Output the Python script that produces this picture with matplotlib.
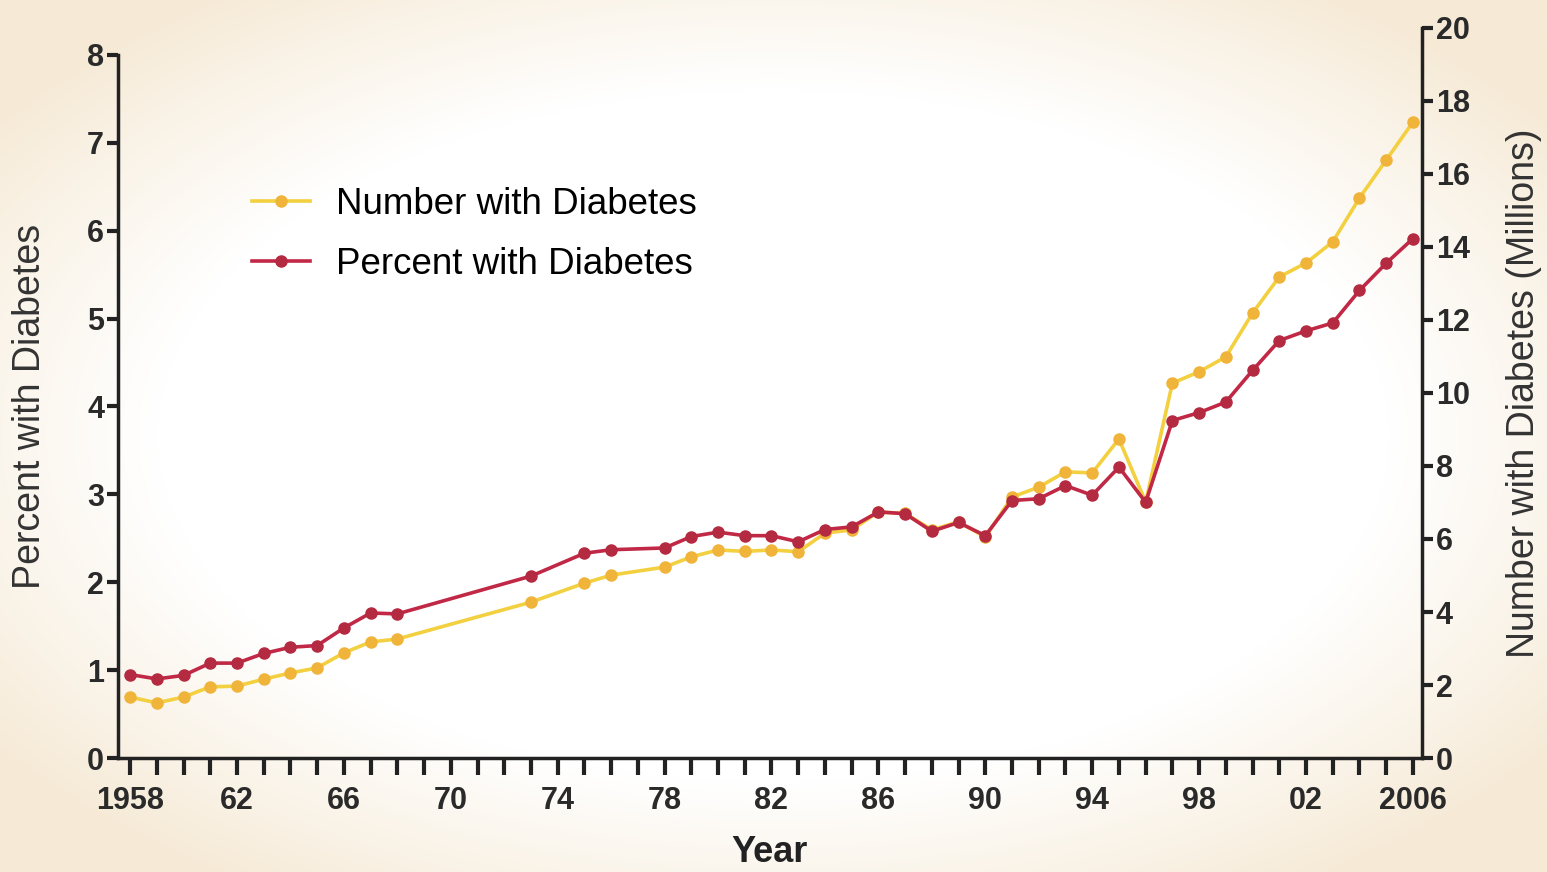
import matplotlib.pyplot as plt
import numpy as np

plt.rcParams['font.family'] = ['Liberation Sans', 'DejaVu Sans']

# Data
years = [1958, 1959, 1960, 1961, 1962, 1963, 1964, 1965, 1966, 1967, 1968,
         1973, 1975, 1976, 1978, 1979, 1980, 1981, 1982, 1983, 1984, 1985,
         1986, 1987, 1988, 1989, 1990, 1991, 1992, 1993, 1994, 1995, 1996,
         1997, 1998, 1999, 2000, 2001, 2002, 2003, 2004, 2005, 2006]
percent = [0.95, 0.90, 0.94, 1.08, 1.08, 1.19, 1.26, 1.28, 1.48, 1.65, 1.64,
           2.07, 2.33, 2.37, 2.39, 2.52, 2.57, 2.53, 2.53, 2.46, 2.60, 2.63,
           2.80, 2.78, 2.58, 2.68, 2.53, 2.93, 2.95, 3.10, 2.99, 3.31, 2.91,
           3.84, 3.93, 4.05, 4.41, 4.75, 4.86, 4.95, 5.32, 5.63, 5.91]
number = [1.67, 1.51, 1.67, 1.95, 1.97, 2.16, 2.33, 2.47, 2.88, 3.18, 3.26,
          4.27, 4.79, 5.01, 5.23, 5.51, 5.70, 5.66, 5.70, 5.65, 6.16, 6.25,
          6.74, 6.70, 6.25, 6.47, 6.05, 7.15, 7.42, 7.84, 7.81, 8.74, 7.01,
          10.27, 10.58, 10.99, 12.19, 13.18, 13.56, 14.14, 15.34, 16.38, 17.42]
major_years = [1958, 1962, 1966, 1970, 1974, 1978, 1982, 1986, 1990, 1994, 1998, 2002, 2006]
major_labels = ['1958', '62', '66', '70', '74', '78', '82', '86', '90', '94', '98', '02', '2006']

fig = plt.figure(figsize=(15.47, 8.72), dpi=100)

# cream vignette background
bg = fig.add_axes([0, 0, 1, 1])
gx, gy = np.meshgrid(np.linspace(-1, 1, 400), np.linspace(-1, 1, 240))
r = np.sqrt(gx ** 2 + gy ** 2)
t = np.clip((r - 0.8) / 0.45, 0, 1)
cream = np.array([246, 234, 214]) / 255.0
img = (1 - t[..., None]) * np.ones(3) + t[..., None] * cream
bg.imshow(img, aspect='auto', extent=[0, 1, 0, 1], interpolation='bilinear')
bg.axis('off')

ax = fig.add_axes([0.0763, 0.1307, 0.9192 - 0.0763, 0.968 - 0.1307])
ax2 = ax.twinx()
ax.set_zorder(ax2.get_zorder() + 1)
ax.patch.set_visible(False)
ax2.patch.set_visible(False)

l1, = ax2.plot(years, number, color='#f2d040', lw=2.6, marker='o', ms=8,
               mfc='#f0b43a', mec='#f0b43a', label='Number with Diabetes')
l2, = ax.plot(years, percent, color='#c02845', lw=2.6, marker='o', ms=8,
              mfc='#b42a40', mec='#b42a40', label='Percent with Diabetes')

ax.set_xlim(1957.55, 2006.34)
ax.set_ylim(0, 8 * 730 / 703)
ax2.set_ylim(0, 20)
ax.set_yticks(range(0, 9))
ax2.set_yticks(range(0, 21, 2))
ax.set_xticks(list(range(1958, 2007)), minor=True)
ax.set_xticks(major_years)
ax.set_xticklabels(major_labels)

for a in (ax, ax2):
    a.spines['top'].set_visible(False)
    for s in a.spines.values():
        s.set_linewidth(2.5)
        s.set_color('#222222')
ax.spines['right'].set_visible(False)
ax2.spines['left'].set_visible(False)
ax2.spines['bottom'].set_visible(False)
ax.spines['left'].set_bounds(0, 8)

ax.tick_params(axis='x', which='both', direction='out', length=12, width=3,
               color='#222222', labelsize=22, pad=8)
ax.tick_params(axis='y', direction='out', length=8, width=3, color='#222222',
               labelsize=22, pad=2)
ax2.tick_params(axis='y', direction='out', length=8, width=3, color='#222222',
                labelsize=22, pad=2)
for lab in ax.get_xticklabels() + ax.get_yticklabels() + ax2.get_yticklabels():
    lab.set_color('#2a2a2a')
    lab.set_fontweight('bold')

ax.set_xlabel('Year', fontsize=26, fontweight='bold', color='#222222', labelpad=14)
ax.set_ylabel('Percent with Diabetes', fontsize=27, color='#333333')
ax.yaxis.set_label_coords(-0.054, 0.482)
ax2.set_ylabel('Number with Diabetes (Millions)', fontsize=27, color='#333333', labelpad=26)

ax.legend(handles=[l1, l2], loc='upper left', bbox_to_anchor=(0.077, 0.828),
          frameon=False, fontsize=26.5, handlelength=1.6, labelspacing=0.7,
          handletextpad=0.7)

fig.savefig('out.png', dpi=100)
